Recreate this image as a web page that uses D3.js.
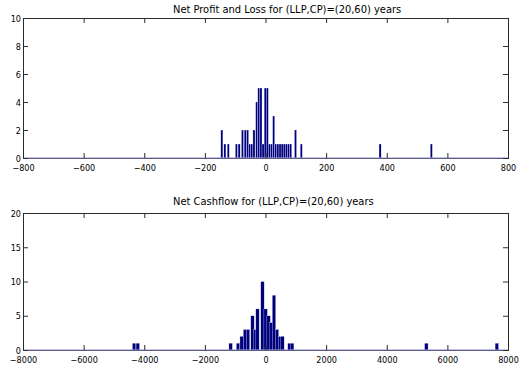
<!DOCTYPE html>
<html>
<head>
<meta charset="utf-8">
<script src="https://cdn.jsdelivr.net/npm/d3@7"></script>
<style>
  body { margin: 0; background: #fff; }
  svg text { font-family: "Liberation Sans Narrow", "DejaVu Sans Condensed", "Liberation Sans", sans-serif; fill: #000; }
</style>
</head>
<body>
<div id="chart"></div>
<script>
// Net profit and loss histogram (bin centre, count)
var plTitle = "Net Profit and Loss for (LLP,CP)=(20,60) years";
var plBinWidth = 7;
var plCenters = [-144, -134, -123, -96, -87, -76, -67, -59, -52, -45, -38, -29, -22, -15, -8, -1, 6, 13, 20, 27, 34, 41, 48, 55, 62, 69, 76, 83, 99, 118, 378, 547];
var plCounts  = [   2,    1,    1,   1,   1,   2,   2,   2,   1,   1,   2,   4,   5,   5,  1,  5, 5,  1,  1,  3,  1,  1,  1,  1,  1,  1,  1,  1,  2,   1,   1,   1];
var plXTicks = [-800, -600, -400, -200, 0, 200, 400, 600, 800];
var plYTicks = [0, 2, 4, 6, 8, 10];

// Net cashflow histogram (bin centre, count)
var cfTitle = "Net Cashflow for (LLP,CP)=(20,60) years";
var cfBinWidth = 115;
var cfCenters = [-4334, -4213, -1150, -905, -786, -676, -577, -429, -347, -264, -100, 5, 103, 186, 280, 379, 478, 560, 790, 880, 5306, 7632];
var cfCounts  = [    1,     1,     1,    1,    2,    3,    3,    5,    3,    6,   10, 6,   5,   4,   8,   3,   2,   2,   1,   1,    1,    1];
var cfXTicks = [-8000, -6000, -4000, -2000, 0, 2000, 4000, 6000, 8000];
var cfYTicks = [0, 5, 10, 15, 20];

var width = 523, height = 369;
var svg = d3.select("#chart").append("svg")
    .attr("width", width)
    .attr("height", height);

function drawHist(opts) {
    var left = 23, right = 508;
    var x = d3.scaleLinear().domain(opts.xDomain).range([left, right]);
    var y = d3.scaleLinear().domain(opts.yDomain).range([opts.bottom, opts.top]);
    var g = svg.append("g");

    var bins = opts.centers.map(function(c, i) { return {c: c, n: opts.counts[i]}; });

    // bars
    g.selectAll("rect.bar")
        .data(bins)
      .enter().append("rect")
        .attr("class", "bar")
        .attr("x", function(d) { return x(d.c - opts.binWidth / 2); })
        .attr("width", function(d) { return Math.max(1.5, x(d.c + opts.binWidth / 2) - x(d.c - opts.binWidth / 2)); })
        .attr("y", function(d) { return y(d.n); })
        .attr("height", function(d) { return y(0) - y(d.n); })
        .attr("fill", "#00007f")
        .attr("stroke", "#fff")
        .attr("stroke-width", 0.3);

    // box
    g.append("rect")
        .attr("x", left).attr("y", opts.top)
        .attr("width", right - left).attr("height", opts.bottom - opts.top)
        .attr("fill", "none")
        .attr("stroke", "#2b2b2b")
        .attr("stroke-width", 1)
        .attr("shape-rendering", "crispEdges");

    // zero baseline of the bars
    g.append("line")
        .attr("x1", left).attr("x2", right)
        .attr("y1", y(0)).attr("y2", y(0))
        .attr("stroke", "#8e8ed8")
        .attr("stroke-width", 1.2);

    var tickLen = 5;
    var axX = d3.axisBottom(x).tickValues(opts.xTicks).tickSize(-tickLen).tickPadding(4).tickFormat(d3.format("d"));
    var gx = g.append("g").attr("transform", "translate(0," + opts.bottom + ")").call(axX);
    var axXTop = d3.axisTop(x).tickValues(opts.xTicks).tickSize(-tickLen).tickFormat("");
    var gxt = g.append("g").attr("transform", "translate(0," + opts.top + ")").call(axXTop);
    var axY = d3.axisLeft(y).tickValues(opts.yTicks).tickSize(-tickLen).tickPadding(2);
    var gy = g.append("g").attr("transform", "translate(" + left + ",0)").call(axY);
    var axYR = d3.axisRight(y).tickValues(opts.yTicks).tickSize(-tickLen).tickFormat("");
    var gyr = g.append("g").attr("transform", "translate(" + right + ",0)").call(axYR);

    [gx, gxt, gy, gyr].forEach(function(a) {
        a.select(".domain").remove();
        a.selectAll(".tick line").attr("stroke", "#2b2b2b");
        a.selectAll("text").attr("font-size", 9).attr("font-family", null);
    });
    gx.selectAll("text").attr("dy", "0.95em");
    gy.selectAll("text").attr("dy", "0.35em");

    g.append("text")
        .attr("x", 173)
        .attr("y", opts.titleY)
        .attr("font-size", 11)
        .text(opts.title);
}

drawHist({
    title: plTitle, titleY: 13,
    centers: plCenters, counts: plCounts, binWidth: plBinWidth,
    xDomain: [-800, 800], yDomain: [0, 10],
    xTicks: plXTicks, yTicks: plYTicks,
    top: 18, bottom: 158
});

drawHist({
    title: cfTitle, titleY: 205,
    centers: cfCenters, counts: cfCounts, binWidth: cfBinWidth,
    xDomain: [-8000, 8000], yDomain: [0, 20],
    xTicks: cfXTicks, yTicks: cfYTicks,
    top: 213, bottom: 350
});
</script>
</body>
</html>
